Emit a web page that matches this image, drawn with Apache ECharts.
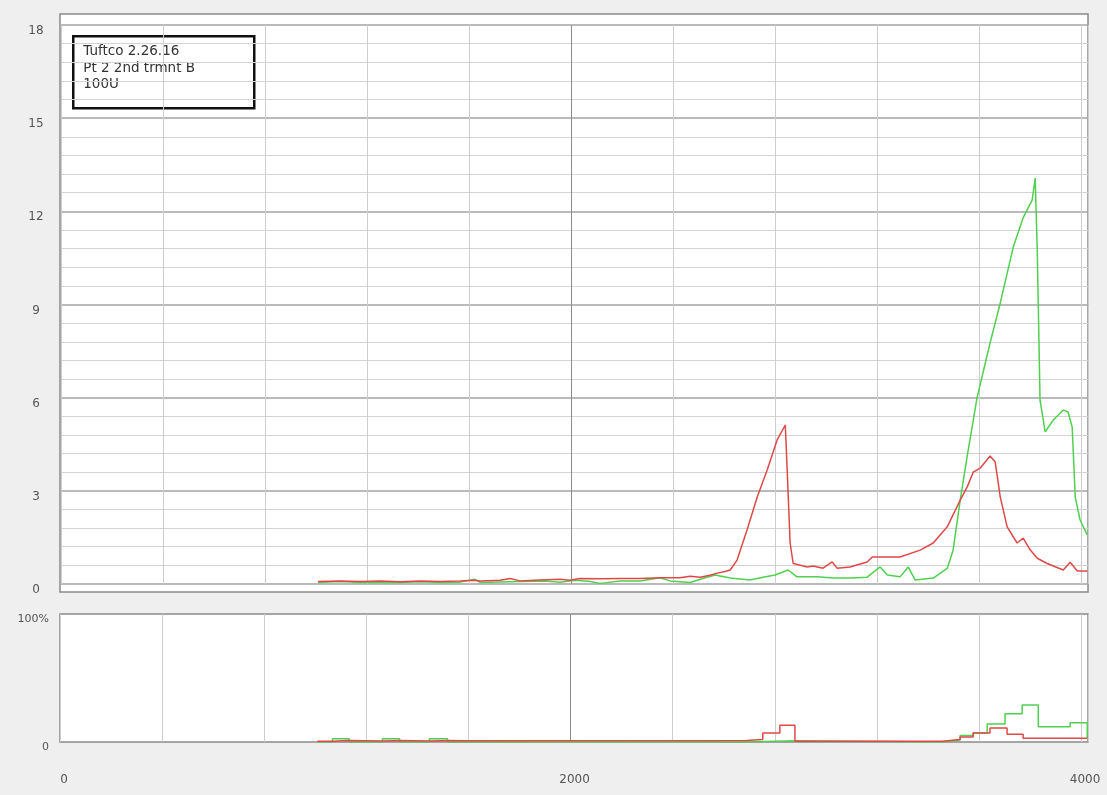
<!DOCTYPE html>
<html>
<head>
<meta charset="utf-8">
<script src="https://cdn.jsdelivr.net/npm/echarts@6/dist/echarts.min.js"></script>
<style>
html,body{margin:0;padding:0;background:#fff;}
#chart{width:1107px;height:795px;}
</style>
</head>
<body>
<div id="chart"></div>
<script>
// ---- data ----
const annotationLines = ["Tuftco 2.26.16", "Pt 2 2nd trmnt B", "100U"];
const xTickLabels = [0, 2000, 4000];
const yTickLabelsTop = [0, 3, 6, 9, 12, 15, 18];
const yTickLabelsBottom = ["0", "100%"];

const redTop = [
  [1008,0.08],[1094,0.10],[1173,0.08],[1251,0.10],[1330,0.07],[1408,0.10],[1486,0.08],[1565,0.10],
  [1616,0.12],[1643,0.10],[1722,0.12],[1761,0.18],[1800,0.10],[1878,0.13],[1957,0.15],[1996,0.12],
  [2035,0.18],[2114,0.17],[2192,0.18],[2271,0.18],[2349,0.20],[2427,0.20],[2467,0.25],[2506,0.22],
  [2545,0.28],[2573,0.35],[2604,0.40],[2624,0.45],[2651,0.77],[2690,1.74],[2730,2.8],[2769,3.67],
  [2808,4.64],[2840,5.12],[2847,3.77],[2859,1.32],[2871,0.66],[2926,0.55],[2949,0.58],[2988,0.51],
  [3024,0.71],[3043,0.51],[3094,0.55],[3161,0.71],[3181,0.87],[3240,0.87],[3290,0.87],[3369,1.09],
  [3420,1.32],[3475,1.84],[3526,2.7],[3553,3.12],[3577,3.6],[3604,3.73],[3643,4.12],[3663,3.93],
  [3683,2.8],[3710,1.84],[3749,1.32],[3773,1.48],[3800,1.1],[3828,0.83],[3867,0.66],[3930,0.45],
  [3957,0.7],[3985,0.42],[4024,0.42]
];
const greenTop = [
  [1008,0.05],[1094,0.08],[1173,0.05],[1251,0.06],[1330,0.05],[1408,0.07],[1486,0.05],[1565,0.06],
  [1624,0.15],[1643,0.05],[1800,0.08],[1898,0.10],[1957,0.06],[2016,0.12],[2075,0.08],[2114,0.02],
  [2192,0.10],[2271,0.10],[2349,0.20],[2388,0.10],[2467,0.05],[2526,0.20],[2565,0.29],[2624,0.19],
  [2702,0.13],[2753,0.22],[2800,0.29],[2851,0.45],[2886,0.23],[2965,0.23],[3028,0.19],[3094,0.19],
  [3161,0.22],[3212,0.55],[3240,0.29],[3290,0.23],[3322,0.55],[3349,0.13],[3420,0.19],[3475,0.5],
  [3498,1.09],[3526,2.7],[3553,4.1],[3592,6.0],[3643,7.76],[3683,9.05],[3734,10.85],[3773,11.8],
  [3808,12.36],[3820,13.07],[3828,10.75],[3839,5.92],[3859,4.9],[3891,5.28],[3930,5.6],[3949,5.54],
  [3965,5.05],[3977,2.8],[3996,2.06],[4024,1.58]
];
const redBottom = [
  [1008,0.5],[1067,1.2],[1133,0.8],[1263,1.2],[1330,0.8],[1447,1.2],[1518,1],[1592,1.2],
  [2690,2],[2753,7],[2820,13],[2879,0.5],[3455,2],[3526,4],[3577,7],[3643,11],[3710,6],[3773,3],[4024,3]
];
const greenBottom = [
  [1008,0],[1067,2.5],[1133,0],[1263,2.5],[1330,0],[1447,2.5],[1518,0],[2690,1],[2879,0],
  [3455,1.5],[3526,5],[3577,7],[3632,14],[3702,22],[3769,29],[3832,12],[3957,15],[4024,3]
];

// ---- chart ----
const FONT = "DejaVu Sans";
const vColors = [];
for (let i = 0; i < 12; i++) vColors.push(i === 5 ? '#8c8c8c' : '#cdcdcd');

const chart = echarts.init(document.getElementById('chart'), null, {renderer: 'canvas'});
const option = {
  animation: false,
  backgroundColor: '#efefef',
  grid: [
    {left: 60, right: 19, top: 14, bottom: 203, show: true, backgroundColor: '#fff', borderColor: '#8a8a8a', borderWidth: 1.5},
    {left: 61, right: 19, top: 25, bottom: 211, show: false},
    {left: 60, right: 19, top: 614, bottom: 53, show: true, backgroundColor: '#fff', borderColor: '#8a8a8a', borderWidth: 1.5}
  ],
  xAxis: [
    {gridIndex: 0, type: 'value', min: 0, max: 1, show: false},
    {gridIndex: 1, type: 'value', min: 0, max: 4027, interval: 400,
      axisLine: {show: false}, axisTick: {show: false}, axisLabel: {show: false},
      splitLine: {show: true, lineStyle: {color: vColors, width: 1}}},
    {gridIndex: 2, type: 'value', min: 0, max: 4027, interval: 400,
      axisLine: {show: false}, axisTick: {show: false},
      axisLabel: {show: true, margin: 32, color: '#555', fontFamily: FONT, fontSize: 12,
        padding: [0, 0, 0, 8],
        formatter: v => xTickLabels.indexOf(v) >= 0 ? String(v) : ''},
      splitLine: {show: true, lineStyle: {color: vColors, width: 1}}}
  ],
  yAxis: [
    {gridIndex: 0, type: 'value', min: 0, max: 1, show: false},
    {gridIndex: 1, type: 'value', min: 0, max: 18, interval: 3,
      axisLine: {show: false}, axisTick: {show: false},
      axisLabel: {show: true, margin: 25, align: 'center', verticalAlign: 'top', color: '#555', fontFamily: FONT, fontSize: 12,
        formatter: v => yTickLabelsTop.indexOf(v) >= 0 ? String(v) : ''},
      splitLine: {show: true, lineStyle: {color: '#a3a3a3', width: 1.5}},
      minorTick: {show: false, splitNumber: 5},
      minorSplitLine: {show: true, lineStyle: {color: '#d3d3d3', width: 1}}},
    {gridIndex: 2, type: 'value', min: 0, max: 100, interval: 100,
      axisLine: {show: false}, axisTick: {show: false},
      axisLabel: {show: true, margin: 11, align: 'right', verticalAlign: 'top', color: '#555', fontFamily: FONT, fontSize: 11,
        formatter: v => v === 0 ? yTickLabelsBottom[0] : (v === 100 ? yTickLabelsBottom[1] : '')},
      splitLine: {show: false}}
  ],
  graphic: [
    {type: 'group', left: 72, top: 35, children: [
      {type: 'rect', shape: {x: 0, y: 0, width: 181, height: 72},
        style: {fill: '#fff', stroke: '#111', lineWidth: 2.5}},
      {type: 'text', x: 10, y: 7,
        style: {text: annotationLines.join('\n'), fill: '#333', font: '13.5px "DejaVu Sans"', lineHeight: 16.5}}
    ]}
  ],
  series: [
    {type: 'line', xAxisIndex: 1, yAxisIndex: 1, data: greenTop, showSymbol: false,
      lineStyle: {color: '#4fd04f', width: 1.5}, itemStyle: {color: '#4fd04f'}},
    {type: 'line', xAxisIndex: 1, yAxisIndex: 1, data: redTop, showSymbol: false,
      lineStyle: {color: '#e04848', width: 1.5}, itemStyle: {color: '#e04848'}},
    {type: 'line', xAxisIndex: 2, yAxisIndex: 2, data: greenBottom, showSymbol: false, step: 'end',
      lineStyle: {color: '#4fd04f', width: 1.5}, itemStyle: {color: '#4fd04f'}},
    {type: 'line', xAxisIndex: 2, yAxisIndex: 2, data: redBottom, showSymbol: false, step: 'end',
      lineStyle: {color: '#e04848', width: 1.5}, itemStyle: {color: '#e04848'}}
  ]
};
chart.setOption(option);
</script>
</body>
</html>
